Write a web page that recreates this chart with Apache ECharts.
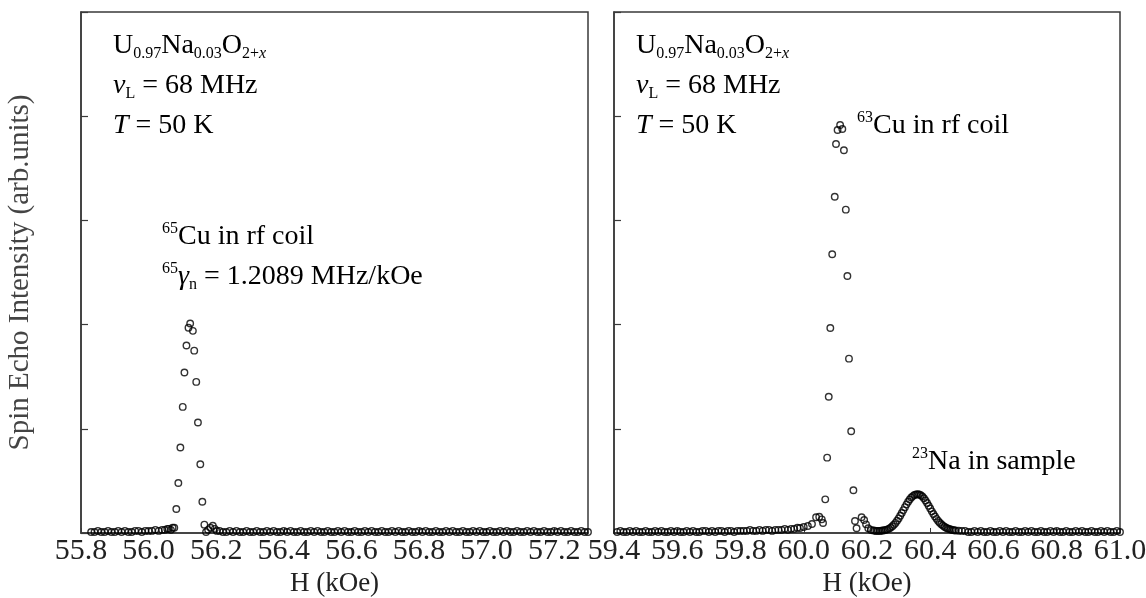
<!DOCTYPE html>
<html><head><meta charset="utf-8">
<script src="https://cdn.jsdelivr.net/npm/echarts@6/dist/echarts.min.js"></script>
<style>html,body{margin:0;padding:0;background:#fff}#c{width:1146px;height:598px}</style>
</head><body><div id="c"></div>
<script>
// Left panel: 65Cu signal (H in kOe, intensity arb. units)
const leftH = [
55.83,55.84,55.85,55.86,55.87,55.88,55.89,55.90,55.91,55.92,55.93,55.94,55.95,55.96,55.97,55.98,55.99,56.00,56.01,56.02,56.03,56.04,
56.048,56.055,56.060,56.066,56.071,56.076,56.082,56.088,56.094,56.101,56.106,56.112,56.118,56.123,56.131,56.135,56.141,56.146,56.153,56.159,56.165,56.170,56.176,56.183,56.190,56.196,56.202,
56.21,56.22,56.23,56.24,56.25,56.26,56.27,56.28,56.29,56.30,56.31,56.32,56.33,56.34,56.35,56.36,56.37,56.38,56.39,56.40,
56.41,56.42,56.43,56.44,56.45,56.46,56.47,56.48,56.49,56.50,56.51,56.52,56.53,56.54,56.55,56.56,56.57,56.58,56.59,56.60,
56.61,56.62,56.63,56.64,56.65,56.66,56.67,56.68,56.69,56.70,56.71,56.72,56.73,56.74,56.75,56.76,56.77,56.78,56.79,56.80,
56.81,56.82,56.83,56.84,56.85,56.86,56.87,56.88,56.89,56.90,56.91,56.92,56.93,56.94,56.95,56.96,56.97,56.98,56.99,57.00,
57.01,57.02,57.03,57.04,57.05,57.06,57.07,57.08,57.09,57.10,57.11,57.12,57.13,57.14,57.15,57.16,57.17,57.18,57.19,57.20,
57.21,57.22,57.23,57.24,57.25,57.26,57.27,57.28,57.29,57.30
];
const leftI = [
0.01,0.01,0.02,0.01,0.01,0.02,0.01,0.01,0.02,0.01,0.02,0.01,0.01,0.02,0.02,0.01,0.02,0.02,0.02,0.03,0.02,0.03,
0.03,0.04,0.04,0.03,0.05,0.05,0.23,0.48,0.82,1.21,1.54,1.80,1.97,2.01,1.94,1.75,1.45,1.06,0.66,0.30,0.08,0.01,0.03,0.05,0.07,0.04,0.02,
0.02,0.01,0.01,0.02,0.01,0.02,0.01,0.01,0.02,0.01,0.01,0.02,0.01,0.01,0.02,0.01,0.02,0.01,0.01,0.02,
0.01,0.02,0.01,0.01,0.02,0.01,0.01,0.02,0.01,0.02,0.01,0.01,0.02,0.01,0.01,0.02,0.01,0.02,0.01,0.01,
0.02,0.01,0.01,0.02,0.01,0.02,0.01,0.01,0.02,0.01,0.01,0.02,0.01,0.02,0.01,0.01,0.02,0.01,0.01,0.02,
0.01,0.02,0.01,0.01,0.02,0.01,0.01,0.02,0.01,0.02,0.01,0.01,0.02,0.01,0.01,0.02,0.01,0.02,0.01,0.01,
0.02,0.01,0.01,0.02,0.01,0.02,0.01,0.01,0.02,0.01,0.01,0.02,0.01,0.02,0.01,0.01,0.02,0.01,0.01,0.02,
0.01,0.02,0.01,0.01,0.02,0.01,0.01,0.02,0.01,0.01
];
// Right panel: 63Cu signal and 23Na signal
const rightH = [
59.41,59.42,59.43,59.44,59.45,59.46,59.47,59.48,59.49,59.50,59.51,59.52,59.53,59.54,59.55,59.56,59.57,59.58,59.59,59.60,
59.61,59.62,59.63,59.64,59.65,59.66,59.67,59.68,59.69,59.70,59.71,59.72,59.73,59.74,59.75,59.76,59.77,59.78,59.79,59.80,
59.81,59.82,59.83,59.84,59.85,59.86,59.87,59.88,59.89,59.90,59.91,59.92,59.93,59.94,59.95,59.96,59.97,59.98,
59.988,60.000,60.013,60.026,60.039,60.049,60.057,60.061,60.068,60.074,60.079,60.084,60.090,60.098,60.102,60.107,60.115,60.122,60.127,60.133,60.138,60.143,60.150,60.157,60.162,60.167,60.183,60.191,60.197,60.204,60.213,
60.220,60.225,60.230,60.235,60.240,60.245,60.250,60.255,60.260,60.265,60.270,60.275,60.280,60.285,60.290,60.295,60.300,60.305,60.310,60.315,
60.320,60.325,60.330,60.335,60.340,60.345,60.350,60.355,60.360,60.365,60.370,60.375,60.380,60.385,60.390,60.395,60.400,60.405,60.410,60.415,
60.420,60.425,60.430,60.435,60.440,60.445,60.450,60.455,60.460,60.465,60.470,60.475,60.480,60.490,60.500,
60.51,60.52,60.53,60.54,60.55,60.56,60.57,60.58,60.59,60.60,60.61,60.62,60.63,60.64,60.65,60.66,60.67,60.68,60.69,60.70,
60.71,60.72,60.73,60.74,60.75,60.76,60.77,60.78,60.79,60.80,60.81,60.82,60.83,60.84,60.85,60.86,60.87,60.88,60.89,60.90,
60.91,60.92,60.93,60.94,60.95,60.96,60.97,60.98,60.99,61.00
];
const rightI = [
0.01,0.02,0.01,0.01,0.02,0.01,0.02,0.01,0.01,0.02,0.01,0.01,0.02,0.01,0.02,0.01,0.01,0.02,0.01,0.02,
0.01,0.01,0.02,0.01,0.02,0.01,0.01,0.02,0.02,0.01,0.02,0.01,0.02,0.02,0.01,0.02,0.02,0.01,0.02,0.02,
0.02,0.02,0.03,0.02,0.02,0.03,0.02,0.03,0.03,0.02,0.03,0.03,0.03,0.04,0.03,0.04,0.04,0.05,
0.048,0.058,0.067,0.086,0.151,0.156,0.131,0.096,0.323,0.723,1.308,1.967,2.675,3.227,3.733,3.868,3.916,3.877,3.673,3.103,2.466,1.673,0.976,0.410,0.115,0.045,0.151,0.125,0.083,0.045,0.029,
0.025,0.022,0.020,0.020,0.020,0.022,0.024,0.026,0.030,0.035,0.042,0.052,0.065,0.080,0.097,0.117,0.140,0.165,0.192,0.220,
0.248,0.275,0.300,0.322,0.340,0.354,0.364,0.370,0.372,0.370,0.362,0.350,0.333,0.312,0.288,0.262,0.235,0.208,0.182,0.158,
0.136,0.116,0.099,0.084,0.071,0.060,0.051,0.044,0.038,0.033,0.029,0.026,0.024,0.022,0.020,
0.02,0.01,0.01,0.02,0.01,0.02,0.01,0.01,0.02,0.01,0.01,0.02,0.01,0.02,0.01,0.01,0.02,0.01,0.01,0.02,
0.01,0.02,0.01,0.01,0.02,0.01,0.01,0.02,0.01,0.02,0.01,0.01,0.02,0.01,0.01,0.02,0.01,0.02,0.01,0.01,
0.02,0.01,0.01,0.02,0.01,0.02,0.01,0.01,0.02,0.01
];
const leftRange = [55.8, 57.3];
const rightRange = [59.4, 61.0];
const xStep = 0.2;
const yRange = [0, 5];
const xName = 'H (kOe)';
const yName = 'Spin Echo Intensity (arb.units)';

const SERIF = 'Liberation Serif';
const INK = '#222';
const FRAME = '#3a3a3a';

function pairs(hs, is) { return hs.map((h, i) => [h, is[i]]); }

function xAxisCfg(idx, range) {
  return {
    type: 'value', gridIndex: idx, min: range[0], max: range[1], interval: xStep,
    name: xName, nameLocation: 'middle', nameGap: 32,
    nameTextStyle: { fontFamily: SERIF, fontSize: 27, color: INK },
    axisLine: { show: true, lineStyle: { color: FRAME, width: 1.5 } },
    axisTick: { show: true, inside: true, length: 5, lineStyle: { color: FRAME, width: 1 } },
    axisLabel: { fontFamily: SERIF, fontSize: 30, color: INK, margin: 3, showMaxLabel: idx === 1,
      formatter: v => v.toFixed(1) },
    splitLine: { show: false }
  };
}
function yAxisCfg(idx, withName) {
  return {
    type: 'value', gridIndex: idx, min: yRange[0], max: yRange[1], interval: 1,
    name: withName ? yName : '', nameLocation: 'middle', nameGap: 46,
    nameTextStyle: { fontFamily: SERIF, fontSize: 29, color: '#444' },
    axisLine: { show: true, lineStyle: { color: FRAME, width: 1.5 } },
    axisTick: { show: true, inside: true, length: 7, lineStyle: { color: FRAME, width: 1.2 } },
    axisLabel: { show: false },
    splitLine: { show: false }
  };
}
function scatter(idx, hs, is) {
  return {
    type: 'scatter', xAxisIndex: idx, yAxisIndex: idx, data: pairs(hs, is),
    symbol: 'circle', symbolSize: 6.5,
    itemStyle: { color: 'rgba(0,0,0,0)', borderColor: '#000', borderWidth: 1.4 },
    emphasis: { disabled: true }, animation: false
  };
}

const rich = {
  n: { fontFamily: SERIF, fontSize: 28, lineHeight: 32, color: '#000' },
  i: { fontFamily: SERIF, fontSize: 28, lineHeight: 32, fontStyle: 'italic', color: '#000' },
  sub: { fontFamily: SERIF, fontSize: 16, lineHeight: 12, verticalAlign: 'bottom', color: '#000' },
  isub: { fontFamily: SERIF, fontSize: 16, lineHeight: 12, verticalAlign: 'bottom', fontStyle: 'italic', color: '#000' },
  sup: { fontFamily: SERIF, fontSize: 16, lineHeight: 22, verticalAlign: 'top', color: '#000' }
};
function label(x, y, text) {
  return { type: 'text', x: x, y: y, silent: true,
    style: { text: text, rich: rich, verticalAlign: 'top', align: 'left' } };
}
const formula = '{n|U}{sub|0.97}{n|Na}{sub|0.03}{n|O}{sub|2+}{isub|x}';
const freq = '{i|ν}{sub|L}{n| = 68 MHz}';
const temp = '{i|T}{n| = 50 K}';

const chart = echarts.init(document.getElementById('c'), null, { renderer: 'canvas' });
chart.setOption({
  backgroundColor: '#fff',
  animation: false,
  grid: [
    { left: 81, top: 12, width: 507, height: 521, show: true, borderColor: FRAME, borderWidth: 1.5, containLabel: false, outerBoundsMode: 'none' },
    { left: 614, top: 12, width: 506, height: 521, show: true, borderColor: FRAME, borderWidth: 1.5, containLabel: false, outerBoundsMode: 'none' }
  ],
  xAxis: [xAxisCfg(0, leftRange), xAxisCfg(1, rightRange)],
  yAxis: [yAxisCfg(0, true), yAxisCfg(1, false)],
  series: [scatter(0, leftH, leftI), scatter(1, rightH, rightI)],
  graphic: [
    label(113, 30, formula),
    label(113, 70, freq),
    label(113, 110, temp),
    label(162, 221, '{sup|65}{n|Cu in rf coil}'),
    label(162, 261, '{sup|65}{i|γ}{sub|n}{n| = 1.2089 MHz/kOe}'),
    label(636, 30, formula),
    label(636, 70, freq),
    label(636, 110, temp),
    label(857, 110, '{sup|63}{n|Cu in rf coil}'),
    label(912, 446, '{sup|23}{n|Na in sample}')
  ]
});
</script></body></html>
